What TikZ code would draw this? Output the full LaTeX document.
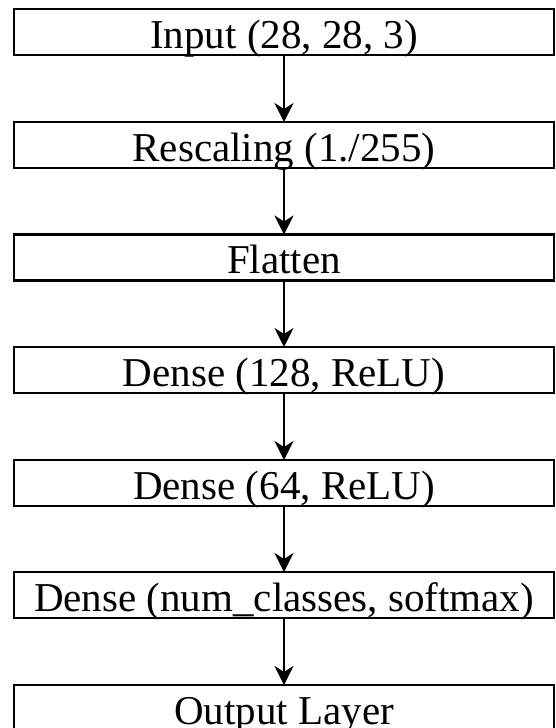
\documentclass[tikz,border=0pt]{standalone}
\usepackage{fontspec}
\setmainfont{Liberation Serif}
\usetikzlibrary{arrows.meta}
\tikzset{
  layerbox/.style={draw=black, line width=2.4pt, rectangle, inner xsep=0pt, inner ysep=0pt,
    minimum width=540pt, text height=39pt, text depth=7pt, outer sep=0pt,
    font=\fontsize{41}{48}\selectfont},
  arr/.style={line width=2.2pt, -{Stealth[length=19pt,width=19pt,inset=6pt]}}
}
\begin{document}
\begin{tikzpicture}[x=1pt,y=-1pt]
\useasboundingbox (0,0) rectangle (555,728);
\clip (0,0) rectangle (555,728);
\node[layerbox] (b1) at (284,32) {Input (28, 28, 3)};
\node[layerbox] (b2) at (284,145) {Rescaling (1./255)};
\node[layerbox] (b3) at (284,257.5) {Flatten};
\node[layerbox] (b4) at (284,370) {Dense (128, ReLU)};
\node[layerbox] (b5) at (284,483) {Dense (64, ReLU)};
\node[layerbox] (b6) at (284,595) {Dense (num\_classes, softmax)};
\node[layerbox] (b7) at (284,708) {Output Layer};
\draw[arr] (b1.south) -- (b2.north);
\draw[arr] (b2.south) -- (b3.north);
\draw[arr] (b3.south) -- (b4.north);
\draw[arr] (b4.south) -- (b5.north);
\draw[arr] (b5.south) -- (b6.north);
\draw[arr] (b6.south) -- (b7.north);
\end{tikzpicture}
\end{document}
